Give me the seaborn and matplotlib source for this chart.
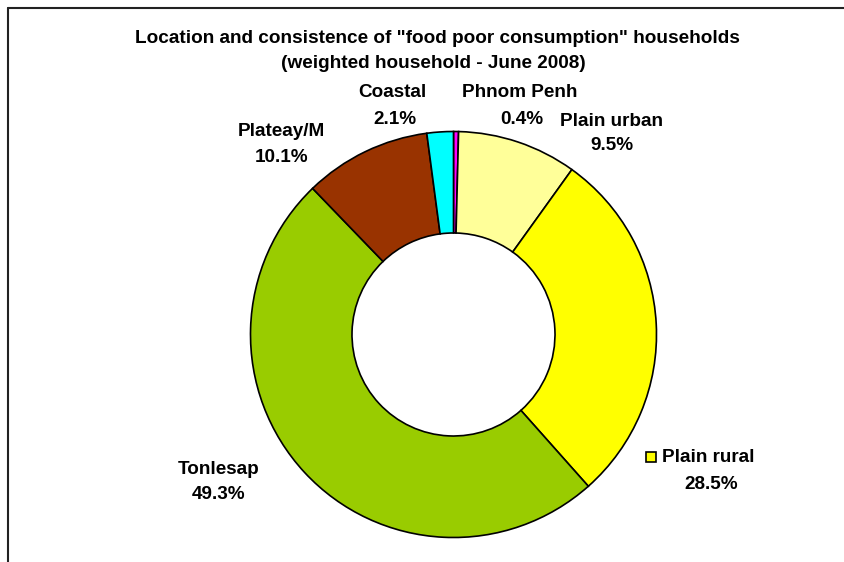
import matplotlib
matplotlib.use("Agg")
import matplotlib.pyplot as plt
from matplotlib.lines import Line2D
from matplotlib.patches import Rectangle
import seaborn as sns

sns.set_theme(style="white")
plt.rcParams["font.family"] = ["Liberation Sans", "DejaVu Sans"]

# Regions, clockwise from 12 o'clock
regions = ["Phnom Penh", "Plain urban", "Plain rural", "Tonlesap", "Plateay/M", "Coastal"]
shares = [0.4, 9.5, 28.5, 49.3, 10.1, 2.1]
colors = sns.color_palette(["#FF00FF", "#FFFF99", "#FFFF00", "#99CC00", "#993300", "#00FFFF"])

title_lines = ['Location and consistence of "food poor consumption" households',
               "(weighted household - June 2008)"]

W, H = 844, 562
fig = plt.figure(figsize=(W / 100, H / 100), dpi=100)
ax = fig.add_axes([0, 0, 1, 1])

cx, cy, r_out = 453.5, H - 334.5, 203
ax.pie(shares, colors=colors, startangle=90, counterclock=False,
       center=(cx, cy), radius=r_out,
       wedgeprops=dict(width=r_out * 0.5, edgecolor="black", linewidth=1.2))

ax.set_xlim(0, W)
ax.set_ylim(0, H)
ax.set_aspect("equal")
ax.axis("off")

# label positions (pixel centres of the two-line labels, measured from the top)
label_pos = {
    "Phnom Penh": [(520, 90), (522, 117)],
    "Plain urban": [(612, 119), (612, 143)],
    "Plain rural": [(708, 455), (711, 482)],
    "Tonlesap": [(219, 467), (218.5, 492)],
    "Plateay/M": [(281, 129), (282, 155)],
    "Coastal": [(392.5, 90), (395, 117)],
}
dy = 2.5  # baseline correction for vertically centred text
fs = 13.6
for name, val in zip(regions, shares):
    (x1, y1), (x2, y2) = label_pos[name]
    ax.text(x1, H - y1 - dy, name, ha="center", va="center", fontsize=fs,
            fontweight="bold", color="black")
    ax.text(x2, H - y2 - dy, f"{val:.1f}%", ha="center", va="center", fontsize=fs,
            fontweight="bold", color="black")

# legend key beside the Plain rural label
ax.add_patch(Rectangle((646, H - 462), 10, 10, facecolor=colors[2],
                       edgecolor="black", linewidth=1.2))

ax.text(437, H - 36 - dy, title_lines[0], ha="center", va="center", fontsize=13.7,
        fontweight="bold", color="black")
ax.text(433.5, H - 61 - dy, title_lines[1], ha="center", va="center", fontsize=13.7,
        fontweight="bold", color="black")

# chart area border (top and left edges)
ax.add_line(Line2D([8, W], [H - 8, H - 8], color="#222222", linewidth=1.5))
ax.add_line(Line2D([8, 8], [H - 8, 0], color="#222222", linewidth=1.5))

fig.savefig("out.png", dpi=100, facecolor="white")
